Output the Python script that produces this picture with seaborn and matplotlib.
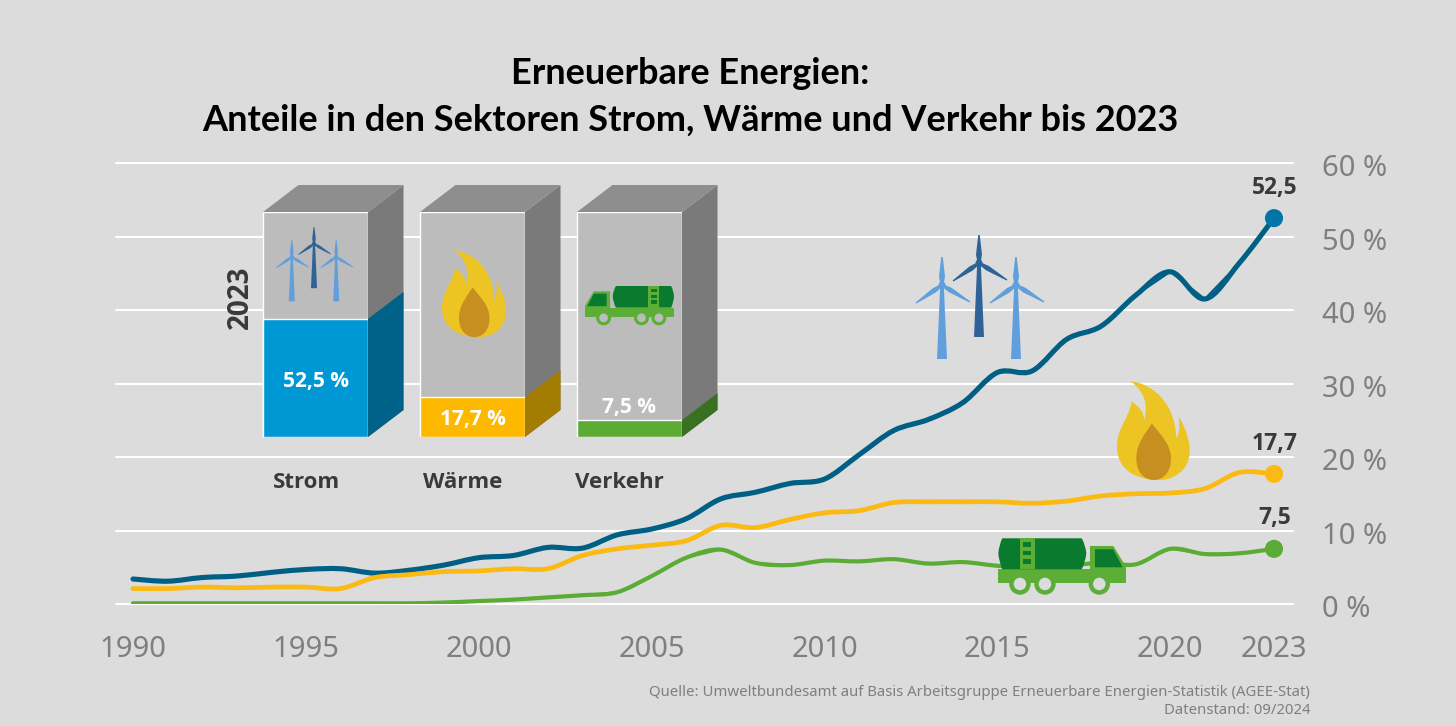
import numpy as np
import pandas as pd
import matplotlib.pyplot as plt
import seaborn as sns
from matplotlib.path import Path
from matplotlib.patches import PathPatch, Polygon, Circle
from matplotlib.transforms import ScaledTranslation

# Werte
years = list(range(1990, 2024))
strom = [3.4, 3.1, 3.6, 3.8, 4.3, 4.7, 4.8, 4.2, 4.6, 5.3, 6.3, 6.6, 7.7, 7.6, 9.4, 10.2, 11.6,
         14.3, 15.2, 16.4, 17.0, 20.3, 23.6, 25.1, 27.4, 31.5, 31.7, 36.0, 37.8, 42.0, 45.2, 41.5, 46.4, 52.5]
waerme = [2.1, 2.1, 2.3, 2.2, 2.3, 2.3, 2.1, 3.6, 4.0, 4.4, 4.5, 4.8, 4.8, 6.6, 7.5, 8.0, 8.6,
          10.7, 10.4, 11.5, 12.4, 12.7, 13.8, 13.9, 13.9, 13.9, 13.7, 14.0, 14.7, 15.0, 15.1, 15.7, 17.9, 17.7]
verkehr = [0.1, 0.1, 0.1, 0.1, 0.1, 0.1, 0.1, 0.1, 0.1, 0.2, 0.4, 0.6, 0.9, 1.2, 1.6, 3.8, 6.3,
           7.4, 5.6, 5.3, 5.9, 5.8, 6.1, 5.5, 5.7, 5.2, 5.0, 5.2, 5.6, 5.4, 7.5, 6.8, 6.9, 7.5]
sectors = ['Strom', 'Wärme', 'Verkehr']
shares_2023 = [52.5, 17.7, 7.5]
full_bar = [100, 100, 100]
share_labels = ['52,5 %', '17,7 %', '7,5 %']
end_labels = ['52,5', '17,7', '7,5']
x_ticks = [1990, 1995, 2000, 2005, 2010, 2015, 2020, 2023]
y_ticks = [0, 10, 20, 30, 40, 50, 60]

BG = '#dcdcdc'
GREY_TXT = '#7f7f7f'
DARK_TXT = '#3a3a3a'
line_colors = ['#005f85', '#fbb913', '#5aac34']
dot_colors = ['#0076a8', '#fbb913', '#5aac34']
side_colors = ['#006289', '#a37c00', '#3a7022']
BOLD = ['Open Sans', 'DejaVu Sans']

sns.set_theme(style='white', rc={'figure.facecolor': BG, 'savefig.facecolor': BG})
plt.rcParams['font.family'] = ['Noto Sans', 'DejaVu Sans']

W, H = 1456, 726
fig = plt.figure(figsize=(W / 100, H / 100), dpi=100)


def px_axes(left, top, right, bottom, **kw):
    return fig.add_axes([left / W, (H - bottom) / H, (right - left) / W, (bottom - top) / H], **kw)


# Hauptdiagramm
ax = px_axes(116, 163, 1293, 604)
ax.patch.set_alpha(0)
df = pd.DataFrame({'Jahr': years * 3,
                   'Anteil': strom + waerme + verkehr,
                   'Sektor': [s for s in sectors for _ in years]})
sns.lineplot(data=df, x='Jahr', y='Anteil', hue='Sektor', palette=line_colors, errorbar=None,
             legend=False, linewidth=1.5, ax=ax)
# die Kurven im Original sind geglättet: gleiche Jahreswerte, Bezier-Verbindung darüber
for ln, lw in zip(list(ax.lines), [3.7, 3.4, 3.0]):
    xy = ln.get_xydata()
    verts = [xy[0]]
    for i in range(len(xy) - 1):
        prev = xy[max(i - 1, 0)]
        nxt = xy[min(i + 2, len(xy) - 1)]
        verts.append(xy[i] + (xy[i + 1] - prev) / 6)
        verts.append(xy[i + 1] - (nxt - xy[i]) / 6)
        verts.append(xy[i + 1])
    codes = [Path.MOVETO] + [Path.CURVE4] * (len(verts) - 1)
    ax.add_patch(PathPatch(Path(verts, codes), fc='none', ec=ln.get_color(), lw=lw, capstyle='round', joinstyle='round'))
last = df[df['Jahr'] == 2023]
sns.scatterplot(data=last, x='Jahr', y='Anteil', hue='Sektor', palette=dot_colors, legend=False,
                s=170, linewidth=0, zorder=5, ax=ax)
ax.set_xlim(1990 - 17 / 34.58, 2023 + 19 / 34.58)
ax.set_ylim(0, 60)
ax.set_xticks(x_ticks)
ax.set_yticks(y_ticks)
ax.set_yticklabels([f'{v} %' for v in y_ticks])
ax.yaxis.tick_right()
ax.tick_params(axis='x', length=0, pad=22.5, labelsize=21, labelcolor=GREY_TXT)
ax.tick_params(axis='y', length=0, pad=21, labelsize=21, labelcolor=GREY_TXT)
for lab in ax.get_yticklabels():
    lab.set_transform(lab.get_transform() + ScaledTranslation(0, -1.5 / 72, fig.dpi_scale_trans))
ax.set_xlabel('')
ax.set_ylabel('')
ax.grid(axis='y', color='white', linewidth=1.5, zorder=0)
ax.set_axisbelow(True)
for g in ax.yaxis.get_gridlines():
    g.set_clip_on(False)
sns.despine(ax=ax, left=True, bottom=True, right=True, top=True)

# 3D-Balken 2023, 100 % = volle Säule
axb = px_axes(237, 212, 708, 437)
axb.patch.set_alpha(0)
sns.barplot(x=sectors, y=full_bar, color='#bcbcbc', saturation=1, width=0.669, ax=axb)
n_bg = len(axb.patches)
sns.barplot(x=sectors, y=shares_2023, hue=sectors, palette=['#0098d4', '#fdb900', '#5bab35'],
            saturation=1, width=0.669, legend=False, dodge=False, ax=axb)
axb.set_xlim(-0.5, 2.5)
axb.set_ylim(0, 100)
axb.set_axis_off()
dx, dy = 35.5 / 157, 27 / 2.25
for p in axb.patches[:n_bg]:
    x1 = p.get_x() + p.get_width()
    x0 = p.get_x()
    top = p.get_height()
    axb.add_patch(Polygon([(x1, 0), (x1 + dx, dy), (x1 + dx, top + dy), (x1, top)], fc='#7a7a7a', ec='none', clip_on=False))
    axb.add_patch(Polygon([(x0, top), (x1, top), (x1 + dx, top + dy), (x0 + dx, top + dy)], fc='#8e8e8e', ec='none', clip_on=False))
for p, c in zip(axb.patches[n_bg:n_bg + 3], side_colors):
    x1 = p.get_x() + p.get_width()
    top = p.get_height()
    axb.add_patch(Polygon([(x1, 0), (x1 + dx, dy), (x1 + dx, top + dy), (x1, top)], fc=c, ec='none', clip_on=False))

# Overlay in Pixelkoordinaten für Piktogramme und Texte
ov = fig.add_axes([0, 0, 1, 1])
ov.set_xlim(0, W)
ov.set_ylim(H, 0)
ov.set_axis_off()
ov.patch.set_alpha(0)


def turbine(cx, hy, s, color):
    base = hy + 74 * s
    ov.add_patch(Polygon([(cx - 1.8 * s, hy), (cx + 1.8 * s, hy), (cx + 5 * s, base), (cx - 5 * s, base)], fc=color, ec='none'))
    ov.add_patch(Circle((cx, hy), 3.5 * s, fc=color, ec='none'))
    for tip, w in [((0, -28), 3.0), ((28, 17), 2.6), ((-26, 18), 2.6)]:
        t = np.array(tip) * s
        n = np.array([-t[1], t[0]]) / np.hypot(*t) * w * s
        mid = t * 0.3
        c = np.array([cx, hy])
        ov.add_patch(Polygon([c + n * 0.5, c + mid + n, c + t + n * 0.25, c + t - n * 0.25, c + mid - n, c - n * 0.5],
                             fc=color, ec='none'))


def wind_group(cx, hy, s):
    turbine(cx - 37 * s, hy, s, '#619fdc')
    turbine(cx + 37 * s, hy, s, '#619fdc')
    turbine(cx, hy - 22 * s, s, '#2f6398')


def flame(x0, y0, s):
    # Koordinaten relativ zur linken oberen Ecke des grossen Piktogramms
    def q(pts):
        return [(x0 + (a - 650) / 3 * s, y0 + (b - 483) / 3 * s) for a, b in pts]
    C = Path.CURVE4
    outer = [(690, 483), (770, 495), (825, 560), (828, 655), (838, 640), (838, 615), (835, 590),
             (860, 630), (870, 670), (868, 700), (865, 750), (820, 780), (780, 780),
             (700, 780), (650, 745), (650, 680), (650, 620), (690, 590), (693, 545),
             (720, 560), (730, 580), (733, 600), (745, 540), (725, 510), (690, 483)]
    ov.add_patch(PathPatch(Path(q(outer), [Path.MOVETO] + [C] * 24), fc='#ecc524', ec='none'))
    inner = [(755, 610), (735, 640), (708, 670), (708, 715), (708, 760), (735, 780), (760, 780),
             (790, 780), (812, 755), (812, 715), (812, 670), (775, 640), (755, 610)]
    ov.add_patch(PathPatch(Path(q(inner), [Path.MOVETO] + [C] * 12), fc='#c68f1f', ec='none'))


def truck(x0, y0, s, flip, wheel_bg):
    # lokale Einheiten: Pixel der 3fach-Ansicht, Fahrzeug schaut nach rechts
    def q(pts):
        return [((x0 - u / 3 * s) if flip else (x0 + u / 3 * s), y0 + v / 3 * s) for u, v in pts]
    light, dark = '#5cae37', '#0a7a2e'
    ov.add_patch(Polygon(q([(0, 93), (383, 93), (383, 135), (0, 135)]), fc=light, ec='none'))
    ov.add_patch(Polygon(q([(275, 23), (345, 23), (383, 85), (383, 100), (275, 100)]), fc=light, ec='none'))
    ov.add_patch(Polygon(q([(290, 33), (345, 33), (373, 87), (290, 87)]), fc=dark, ec='none'))
    tank = [(12, 0), (250, 0), (262, 20), (264, 45), (262, 70), (250, 93), (12, 93), (2, 70), (0, 45), (2, 20), (12, 0)]
    codes = [Path.MOVETO, Path.LINETO, Path.CURVE3, Path.CURVE3, Path.CURVE3, Path.CURVE3, Path.LINETO,
             Path.CURVE3, Path.CURVE3, Path.CURVE3, Path.CURVE3]
    ov.add_patch(PathPatch(Path(q(tank), codes), fc=dark, ec='none'))
    ov.add_patch(Polygon(q([(65, 0), (110, 0), (110, 93), (65, 93)]), fc=light, ec='none'))
    for v in [12, 37, 62]:
        ov.add_patch(Polygon(q([(75, v), (97, v), (97, v + 14), (75, v + 14)]), fc=dark, ec='none'))
    for u in [65, 140, 303]:
        (cx, cy) = q([(u, 137)])[0]
        ov.add_patch(Circle((cx, cy), 8.5 * s, fc=wheel_bg, ec=light, lw=3.2 * s))


wind_group(979, 285, 1)
wind_group(314, 257, 0.6)
flame(1117, 381, 1)
flame(442, 250, 0.88)
truck(998.3, 538.3, 1, False, BG)
truck(674, 286, 0.697, True, '#bcbcbc')

# Texte
ov.text(690, 74, 'Erneuerbare Energien:', ha='center', va='center', fontsize=26, fontweight='bold',
        family=['Lato', 'DejaVu Sans'], color='black')
ov.text(690, 120, 'Anteile in den Sektoren Strom, Wärme und Verkehr bis 2023', ha='center', va='center',
        fontsize=26, fontweight='bold', family=['Lato', 'DejaVu Sans'], color='black')
for s, x in zip(sectors, [306, 463, 619]):
    ov.text(x, 483, s, ha='center', va='center', fontsize=16, fontweight='bold', family=BOLD, color=DARK_TXT)
for s, x, y in zip(share_labels, [316, 473, 629], [381, 420, 408]):
    ov.text(x, y, s, ha='center', va='center', fontsize=15, fontweight='bold', family=BOLD, color='white')
ov.text(240, 297, '2023', ha='center', va='center', rotation=90, fontsize=20, fontweight='bold', family=BOLD, color=DARK_TXT)
for s, y in zip(end_labels, [188, 444, 518]):
    ov.text(1275, y, s, ha='center', va='center', fontsize=16.5, fontweight='bold', family=BOLD, color=DARK_TXT)
ov.text(1310, 693, 'Quelle: Umweltbundesamt auf Basis Arbeitsgruppe Erneuerbare Energien-Statistik (AGEE-Stat)',
        ha='right', va='center', fontsize=10.75, color=GREY_TXT)
ov.text(1310, 711, 'Datenstand: 09/2024', ha='right', va='center', fontsize=10.75, color=GREY_TXT)

fig.savefig('out.png', dpi=100)
plt.close()
